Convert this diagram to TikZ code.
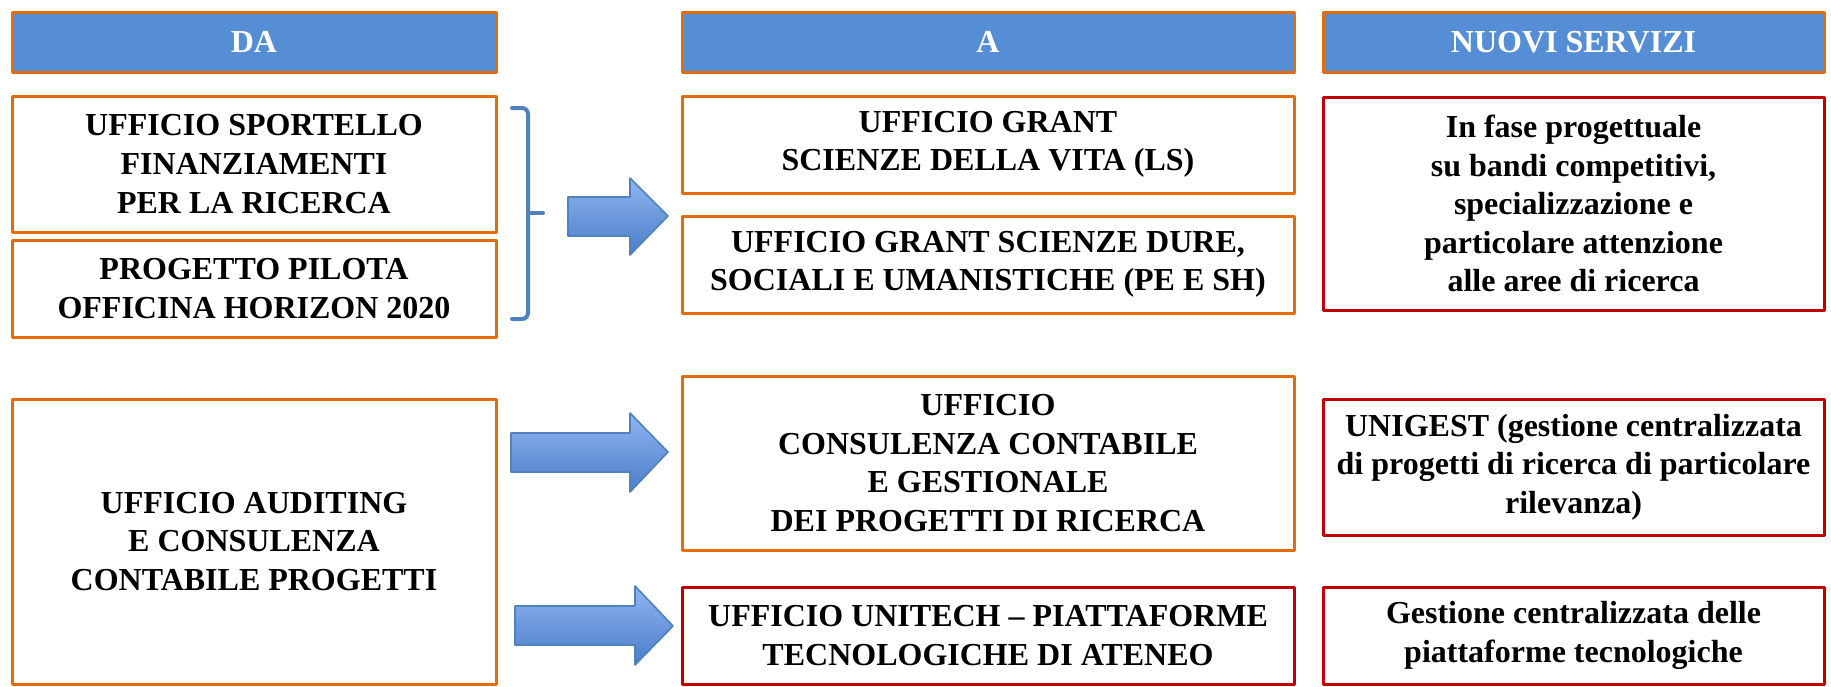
\documentclass[tikz,border=0pt]{standalone}
\usepackage{fontspec}
\setmainfont{Liberation Serif}
\usepackage{tikz}
\usetikzlibrary{arrows.meta}

\definecolor{HeadBlue}{HTML}{558ED5}
\definecolor{BoxOrange}{HTML}{E46C0A}
\definecolor{BoxRed}{HTML}{C00000}
\definecolor{BraceBlue}{HTML}{4F81BD}
\definecolor{ArrowTop}{HTML}{8FB5F2}
\definecolor{ArrowBot}{HTML}{4A7DC8}

\tikzset{
    box/.style={draw=BoxOrange, line width=1.5pt, fill=white, align=center, inner sep=0pt,
        font=\fontsize{16}{19.3}\selectfont\bfseries},
    redbox/.style={box, draw=BoxRed},
    headbox/.style={box, fill=HeadBlue, text=white, minimum height=30pt},
    bluearrow/.style={draw=BraceBlue, line width=0.8pt, top color=ArrowTop, bottom color=ArrowBot}
}

\begin{document}
\begin{tikzpicture}[
    x=0.5pt, y=-0.5pt,
    line cap=round,
    line join=round
]
\useasboundingbox (0,0) rectangle (1831,686);

% headers
\node[headbox, minimum width=242pt] (da) at (254,42) {DA};
\node[headbox, minimum width=306pt] (a) at (988,42) {A};
\node[headbox, minimum width=250.5pt] (nuovi) at (1573.5,42) {NUOVI SERVIZI};

% column DA
\node[box, minimum width=242pt, minimum height=68pt] (sportello) at (254,164)
    {UFFICIO SPORTELLO\\FINANZIAMENTI\\PER LA RICERCA};
\node[box, minimum width=242pt, minimum height=48.5pt] (pilota) at (254,288.5)
    {PROGETTO PILOTA\\OFFICINA HORIZON 2020};
\node[box, minimum width=242pt, minimum height=142.5pt] (auditing) at (254,541.5)
    {UFFICIO AUDITING\\E CONSULENZA\\CONTABILE PROGETTI};

% column A
\node[box, minimum width=306pt, minimum height=48.5pt] (grantls) at (988,144.5)
    {UFFICIO GRANT\\SCIENZE DELLA VITA (LS)};
\node[box, minimum width=306pt, minimum height=48.5pt] (grantpe) at (988,264.5)
    {UFFICIO GRANT SCIENZE DURE,\\SOCIALI E UMANISTICHE (PE E SH)};
\node[box, minimum width=306pt, minimum height=87pt] (contabile) at (988,463)
    {UFFICIO\\CONSULENZA CONTABILE\\E GESTIONALE\\DEI PROGETTI DI RICERCA};
\node[redbox, minimum width=306pt, minimum height=48.5pt] (unitech) at (988,635.5)
    {UFFICIO UNITECH -- PIATTAFORME\\TECNOLOGICHE DI ATENEO};

% column NUOVI SERVIZI
\node[redbox, minimum width=250.5pt, minimum height=106.5pt] (fase) at (1573.5,203.5)
    {In fase progettuale\\su bandi competitivi,\\specializzazione e\\particolare attenzione\\alle aree di ricerca};
\node[redbox, minimum width=250.5pt, minimum height=68pt] (unigest) at (1573.5,467)
    {UNIGEST (gestione centralizzata\\di progetti di ricerca di particolare\\rilevanza)};
\node[redbox, minimum width=250.5pt, minimum height=48.5pt] (piattaforme) at (1573.5,635.5)
    {Gestione centralizzata delle\\piattaforme tecnologiche};

% brace
\coordinate (bracetip) at (543,213);
\draw[BraceBlue, line width=2pt, rounded corners=3pt]
    (512,108) -- (528,108) -- (528,319) -- (512,319);
\draw[BraceBlue, line width=2pt] (528,213) -- (bracetip);

% block arrows
\shade[bluearrow] (568,197) -- (630,197) -- (630,178) -- (668,216) -- (630,255) -- (630,236) -- (568,236) -- cycle;
\shade[bluearrow] (511,433) -- (630,433) -- (630,413) -- (668,452) -- (630,492) -- (630,472) -- (511,472) -- cycle;
\shade[bluearrow] (515,606) -- (635,606) -- (635,586) -- (673,626) -- (635,665) -- (635,645) -- (515,645) -- cycle;

\end{tikzpicture}
\end{document}
